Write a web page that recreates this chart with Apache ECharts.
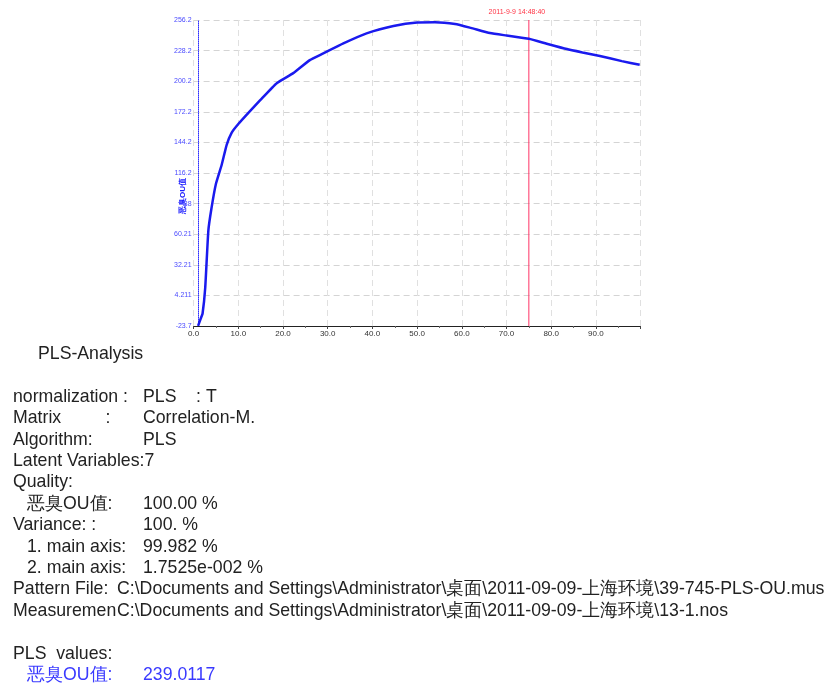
<!DOCTYPE html>
<html>
<head>
<meta charset="utf-8">
<script src="https://cdn.jsdelivr.net/npm/echarts@6/dist/echarts.min.js"></script>
<style>
  html, body { margin: 0; padding: 0; background: #fff; }
  #main { width: 832px; height: 686px; }
</style>
</head>
<body>
<div id="main"></div>
<script>
// curve
var xVals = [1.0, 1.6, 2.0, 2.6, 3.3, 4.0, 5.0, 6.3, 7.4, 8.5, 10, 12.2, 14.9, 18.6, 22.3, 26, 29, 33.5, 38.7, 44.7, 50, 54, 58.5, 62, 66.3, 70, 75, 79, 83.5, 87, 90.9, 95.8, 99.8];
var yVals = [-23.7, -17, -12.6, 11.2, 63.5, 84, 106.4, 124, 142, 153, 161, 171, 182.8, 198.4, 207.6, 219.5, 225.6, 234.8, 244, 250.7, 254, 254.2, 252.5, 249, 244.3, 242, 239, 234.5, 229.6, 226.5, 223.2, 218.6, 215.2];
var yTickLabels = ['-23.7', '4.211', '32.21', '60.21', '88', '116.2', '144.2', '172.2', '200.2', '228.2', '256.2'];
var yBase = -23.79;   // bottom of the value axis
var yStep = 28;
var markerX = 75;
var markerLabel = '2011-9-9 14:48:40';

var infoRows = [
    ['normalization :', 'PLS    : T'],
    ['Matrix         :', 'Correlation-M.'],
    ['Algorithm:', 'PLS'],
    ['Latent Variables:7', ''],
    ['Quality:', ''],
    ['  恶臭OU值:', '100.00 %'],
    ['Variance: :', '100. %'],
    ['  1. main axis:', '99.982 %'],
    ['  2. main axis:', '1.7525e-002 %']
];
var fileRows = [
    ['Pattern File:', 'C:\\Documents and Settings\\Administrator\\桌面\\2011-09-09-上海环境\\39-745-PLS-OU.mus'],
    ['Measuremen', 'C:\\Documents and Settings\\Administrator\\桌面\\2011-09-09-上海环境\\13-1.nos']
];

var seriesData = xVals.map(function (x, i) { return [x, yVals[i] - yBase]; });
var markerData = [[markerX, 0], [markerX, yStep * 10]];

var FONT = '"Liberation Sans", Arial, sans-serif';
var txtColor = '#222';
var graphics = [];
function addText(x, y, s, color) {
    graphics.push({
        type: 'text', left: x, top: y - 8,
        style: { text: s, fill: color || txtColor, font: '17.7px ' + FONT }
    });
}
addText(38, 353, 'PLS-Analysis');
var rowY = 396;
infoRows.forEach(function (r) {
    var indent = r[0].indexOf('  ') == 0;
    addText(indent ? 27 : 13, rowY, r[0].trim());
    if (r[1]) addText(143, rowY, r[1]);
    rowY += 21.4;
});
fileRows.forEach(function (r) {
    addText(13, rowY, r[0]);
    addText(117, rowY, r[1]);
    rowY += 21.4;
});
rowY += 21.4;
addText(13, rowY, 'PLS  values:');
rowY += 21.4;
addText(27, rowY, '恶臭OU值:', '#3a3aff');
addText(143, rowY, '239.0117', '#3a3aff');

var myChart = echarts.init(document.getElementById('main'));
var option = {
    backgroundColor: '#fff',
    animation: false,
    grid: { left: 193.6, top: 20, width: 447, height: 306 },
    xAxis: {
        type: 'value',
        min: 0, max: 100, interval: 10,
        axisLine: { onZero: false, lineStyle: { color: '#222', width: 1 } },
        axisTick: { show: true, length: 3, lineStyle: { color: '#444' } },
        minorTick: { show: true, splitNumber: 2, length: 2, lineStyle: { color: '#666' } },
        axisLabel: {
            color: '#333', fontSize: 8, fontFamily: FONT, margin: 4, showMaxLabel: false,
            formatter: function (v) { return v.toFixed(1); }
        },
        splitLine: { show: true, lineStyle: { color: '#e0e0e0', type: [6, 4] } }
    },
    yAxis: {
        type: 'value',
        min: 0, max: yStep * 10, interval: yStep,
        offset: -5,
        name: '恶臭OU值',
        nameLocation: 'middle',
        nameGap: 12,
        nameRotate: 90,
        nameMoveOverlap: false,
        nameTextStyle: { color: '#2020ff', fontSize: 8, fontWeight: 'bold', fontFamily: FONT, padding: [0, 46, 0, 0] },
        axisLine: { show: true, lineStyle: { color: '#3030ff', type: 'dotted', width: 1 } },
        axisTick: { show: false },
        axisLabel: {
            color: '#4a4aff', fontSize: 7, fontFamily: FONT, margin: 7,
            formatter: function (v) { return yTickLabels[Math.round(v / yStep)]; }
        },
        splitLine: { show: true, lineStyle: { color: '#d4d4d4', type: [6, 4] } }
    },
    series: [{
        type: 'line',
        data: seriesData,
        showSymbol: false,
        smooth: 0.15,
        lineStyle: { color: '#1a1aee', width: 2.5 },
        z: 3
    }, {
        // red time marker
        type: 'line',
        data: markerData,
        showSymbol: true,
        symbol: 'circle',
        symbolSize: 0,
        lineStyle: { color: '#ff3366', width: 1 },
        itemStyle: { color: '#ff3366' },
        z: 2,
        label: {
            show: true, position: 'top', distance: 4, offset: [-12, 0],
            color: '#ff3344', fontSize: 7, fontFamily: FONT,
            formatter: function (p) { return p.dataIndex == 1 ? markerLabel : ''; }
        }
    }],
    graphic: graphics
};
myChart.setOption(option);
</script>
</body>
</html>
